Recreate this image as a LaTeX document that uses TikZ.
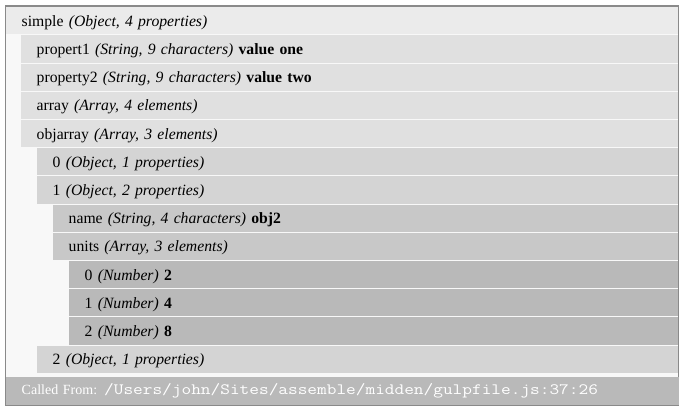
\documentclass[tikz,border=0pt]{standalone}
\usepackage{fontspec}
\usepackage{graphicx}
\setmainfont{Liberation Serif}
\definecolor{frame}{HTML}{8A8A8A}
\definecolor{pane}{HTML}{F8F8F8}
\definecolor{shadeA}{HTML}{EBEBEB}
\definecolor{shadeB}{HTML}{E0E0E0}
\definecolor{shadeC}{HTML}{D4D4D4}
\definecolor{shadeD}{HTML}{C8C8C8}
\definecolor{shadeE}{HTML}{B9B9B9}
\newcommand\pathtext[1]{\scalebox{1.19}[1]{\ttfamily\fontsize{15.8}{19}\selectfont#1}}
\begin{document}
\begin{tikzpicture}[
    x=1pt, y=-1pt,
    every node/.style={anchor=north west, minimum height=27.2pt, inner xsep=15.5pt, inner ysep=0pt,
                       text height=13.5pt, text depth=2.5pt, align=left, font=\fontsize{15.7}{19}\selectfont},
    lvA/.style={fill=shadeA, text width=640.6pt},
    lvB/.style={fill=shadeB, text width=625.6pt},
    lvC/.style={fill=shadeC, text width=609.6pt},
    lvD/.style={fill=shadeD, text width=593.6pt},
    lvE/.style={fill=shadeE, text width=577.6pt},
    foot/.style={fill=shadeE, text=white, text width=641.5pt, minimum height=28.5pt,
                 text height=11pt, text depth=3pt, font=\fontsize{14}{17}\selectfont},
]
  \useasboundingbox (0,0) rectangle (683,411);
  \draw [frame, line width=1.5pt, fill=pane] (5.5,6) rectangle (678.5,405.5);
  \node [lvA]   (simple)   at (6,  7    )  {simple \textit{(Object, 4 properties)}};
  \node [lvB]   (prop1)    at (21, 35.2 )  {propert1 \textit{(String, 9 characters)} \textbf{value one}};
  \node [lvB]   (prop2)    at (21, 63.4 )  {property2 \textit{(String, 9 characters)} \textbf{value two}};
  \node [lvB]   (array)    at (21, 91.6 )  {array \textit{(Array, 4 elements)}};
  \node [lvB]   (objarray) at (21, 119.8)  {objarray \textit{(Array, 3 elements)}};
  \node [lvC]   (obj0)     at (37, 148  )  {0 \textit{(Object, 1 properties)}};
  \node [lvC]   (obj1)     at (37, 176.2)  {1 \textit{(Object, 2 properties)}};
  \node [lvD]   (name)     at (53, 204.4)  {name \textit{(String, 4 characters)} \textbf{obj2}};
  \node [lvD]   (units)    at (53, 232.6)  {units \textit{(Array, 3 elements)}};
  \node [lvE]   (unit0)    at (69, 260.8)  {0 \textit{(Number)} \textbf{2}};
  \node [lvE]   (unit1)    at (69, 289  )  {1 \textit{(Number)} \textbf{4}};
  \node [lvE]   (unit2)    at (69, 317.2)  {2 \textit{(Number)} \textbf{8}};
  \node [lvC]   (obj2)     at (37, 345.4)  {2 \textit{(Object, 1 properties)}};
  \node [foot]  (called)   at (6,  376.5)  {Called From: \pathtext{/Users/john/Sites/assemble/midden/gulpfile.js:37:26}};
\end{tikzpicture}
\end{document}
